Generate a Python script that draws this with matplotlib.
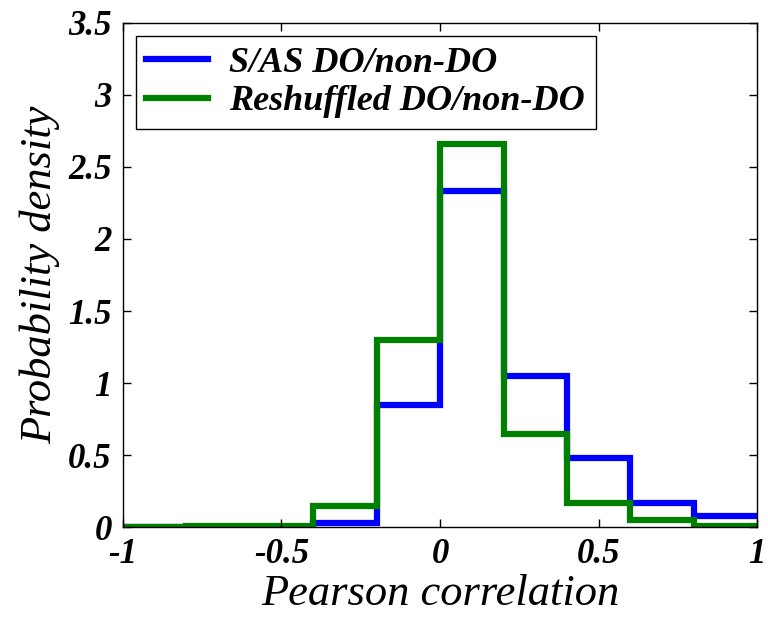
import numpy as np
import matplotlib
matplotlib.use("Agg")
import matplotlib.pyplot as plt

bin_edges = [-1.0, -0.8, -0.6, -0.4, -0.2, 0.0, 0.2, 0.4, 0.6, 0.8, 1.0]
sas_density = [0.0, 0.0, 0.0, 0.03, 0.85, 2.33, 1.05, 0.48, 0.17, 0.08]
reshuffled_density = [0.0, 0.008, 0.008, 0.15, 1.30, 2.66, 0.65, 0.17, 0.05, 0.01]
labels = ["S/AS DO/non-DO", "Reshuffled DO/non-DO"]
colors = ["#0000ff", "#008000"]

plt.rcParams['font.family'] = ['Liberation Serif', 'DejaVu Serif']

fig = plt.figure(figsize=(7.68, 6.18), dpi=100)
ax = fig.add_axes([0.160, 0.147, 0.826, 0.816])

for vals, lab, col in zip([sas_density, reshuffled_density], labels, colors):
    ax.stairs(vals, bin_edges, color=col, linewidth=4.5, label=lab, baseline=None)

ax.set_xlim(-1, 1)
ax.set_ylim(0, 3.5)
ax.set_xticks([-1, -0.5, 0, 0.5, 1])
ax.set_xticklabels(["-1", "-0.5", "0", "0.5", "1"])
ax.set_yticks([0, 0.5, 1, 1.5, 2, 2.5, 3, 3.5])
ax.set_yticklabels(["0", "0.5", "1", "1.5", "2", "2.5", "3", "3.5"])
ax.tick_params(direction='in', top=True, right=True, length=6, width=1, labelsize=25)
ax.tick_params(axis='y', pad=8)
ax.tick_params(axis='x', pad=8)
for lbl in ax.get_xticklabels() + ax.get_yticklabels():
    lbl.set_fontweight('bold')
    lbl.set_fontstyle('italic')
for s in ax.spines.values():
    s.set_linewidth(1)

ax.set_xlabel("Pearson correlation", fontsize=32, fontstyle='italic', labelpad=2)
ax.set_ylabel("Probability density", fontsize=32, fontstyle='italic', labelpad=6)

leg = ax.legend(loc='upper left', prop={'size': 26, 'weight': 'bold', 'style': 'italic'},
                fancybox=False, edgecolor='black', framealpha=1, handlelength=1.7,
                borderaxespad=0.35, labelspacing=0.15, borderpad=0.3, handletextpad=0.6)
leg.get_frame().set_linewidth(1)

fig.savefig("out.png", dpi=100)
